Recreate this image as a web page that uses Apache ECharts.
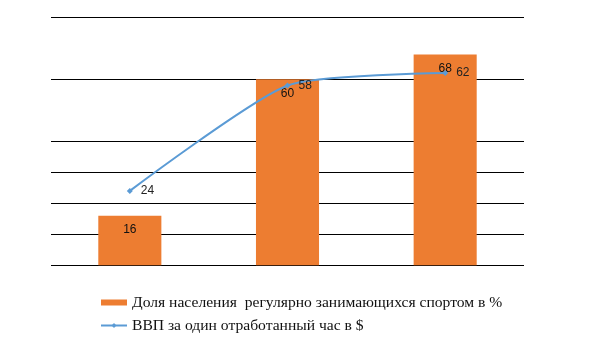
<!DOCTYPE html>
<html><head><meta charset="utf-8">
<script src="https://cdn.jsdelivr.net/npm/echarts@6/dist/echarts.min.js"></script>
<style>html,body{margin:0;padding:0;background:#fff}#c{width:600px;height:344px}</style>
</head><body><div id="c"></div>
<script>
const categories = ['A', 'B', 'C'];
const sportShare = [16, 60, 68];
const gdpPerHour = [24, 58, 62];
const yTicks = [0, 10, 20, 30, 40, 50, 60, 70, 80];
const hiddenGridValues = [50, 70];
const seriesNames = ['Доля населения  регулярно занимающихся спортом в %', 'ВВП за один отработанный час в $'];

const gridColors = yTicks.map(v => hiddenGridValues.includes(v) ? 'rgba(0,0,0,0)' : '#000');

const chart = echarts.init(document.getElementById('c'), null, {renderer: 'canvas'});
chart.setOption({
  animation: false,
  backgroundColor: '#fff',
  grid: {left: 51, right: 76, top: 17.3, bottom: 78.7, containLabel: false},
  xAxis: {
    type: 'category', data: categories,
    axisLine: {show: false}, axisTick: {show: false}, axisLabel: {show: false}
  },
  yAxis: {
    type: 'value', min: yTicks[0], max: yTicks[yTicks.length - 1], interval: 10,
    axisLine: {show: false}, axisTick: {show: false}, axisLabel: {show: false},
    splitLine: {show: true, showMinLine: true, showMaxLine: true, lineStyle: {color: gridColors, width: 1}}
  },
  legend: {
    orient: 'vertical', left: 95, top: 289,
    itemWidth: 26, itemHeight: 6, itemGap: 6,
    textStyle: {fontFamily: 'Liberation Serif', fontSize: 15.6, color: '#111', lineHeight: 17},
    data: [
      {name: seriesNames[0], icon: 'rect'},
      {name: seriesNames[1]}
    ]
  },
  series: [
    {
      name: seriesNames[0], type: 'bar', data: sportShare,
      barCategoryGap: '60%',
      itemStyle: {color: '#ED7D31'},
      label: {show: true, position: 'insideTop', distance: 8,
        fontFamily: 'Liberation Sans', fontSize: 12, color: '#111'}
    },
    {
      name: seriesNames[1], type: 'line', data: gdpPerHour,
      smooth: 0.2,
      symbol: 'diamond', symbolSize: 6,
      itemStyle: {color: '#5B9BD5'},
      lineStyle: {color: '#5B9BD5', width: 2},
      label: {show: true, position: 'right', distance: 8,
        fontFamily: 'Liberation Sans', fontSize: 12, color: '#222'},
      z: 3
    }
  ]
});
</script></body></html>
